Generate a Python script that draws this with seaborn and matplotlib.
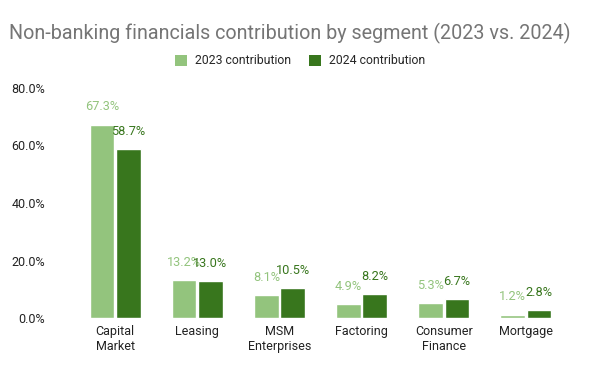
import matplotlib
matplotlib.use("Agg")
import matplotlib.pyplot as plt
import seaborn as sns
import pandas as pd
from matplotlib.ticker import FuncFormatter
from matplotlib.patches import Patch

categories = ["Capital\nMarket", "Leasing", "MSM\nEnterprises", "Factoring", "Consumer\nFinance", "Mortgage"]
series_names = ["2023 contribution", "2024 contribution"]
values_2023 = [67.3, 13.2, 8.1, 4.9, 5.3, 1.2]
values_2024 = [58.7, 13.0, 10.5, 8.2, 6.7, 2.8]
y_ticks = [0, 20, 40, 60, 80]

colors = ["#93c47d", "#38761d"]

df = pd.DataFrame({
    "segment": categories * 2,
    "series": [series_names[0]] * len(categories) + [series_names[1]] * len(categories),
    "value": values_2023 + values_2024,
})

sns.set_theme(style="white")
plt.rcParams['font.family'] = ['Roboto', 'DejaVu Sans']

fig = plt.figure(figsize=(6, 3.71), dpi=100)
ax = fig.add_axes([74/600, 1 - 318/371, (567-74)/600, (318-88)/371])

sns.barplot(data=df, x="segment", y="value", hue="series", palette=colors,
            order=categories, hue_order=series_names, ax=ax, width=0.64,
            gap=0.06, saturation=1, legend=False)

for cont, col in zip(ax.containers, colors):
    labels = [f"{v:.1f}%" for v in cont.datavalues]
    ax.bar_label(cont, labels=labels, padding=8, color=col, fontsize=9.2)

ax.set_ylim(0, 80)
ax.set_yticks(y_ticks)
ax.yaxis.set_major_formatter(FuncFormatter(lambda v, p: f"{v:.1f}%"))
ax.set_xlabel("")
ax.set_ylabel("")
ax.tick_params(axis="both", length=0, labelsize=9, colors="#222222")
ax.tick_params(axis="y", pad=21)
ax.tick_params(axis="x", pad=5)
for s in ax.spines.values():
    s.set_visible(False)
ax.grid(False)

fig.text(290/600, 1 - 33/371, "Non-banking financials contribution by segment (2023 vs. 2024)",
         ha="center", va="center", fontsize=14.2, color="#757575")

handles = [Patch(facecolor=c, edgecolor="none") for c in colors]
fig.legend(handles, series_names, loc="center", bbox_to_anchor=(0.5, 1 - 61/371),
           ncol=2, frameon=False, fontsize=8.8, handlelength=1.0, handleheight=1.0,
           columnspacing=1.5, handletextpad=0.6)

fig.savefig("out.png", dpi=100)
